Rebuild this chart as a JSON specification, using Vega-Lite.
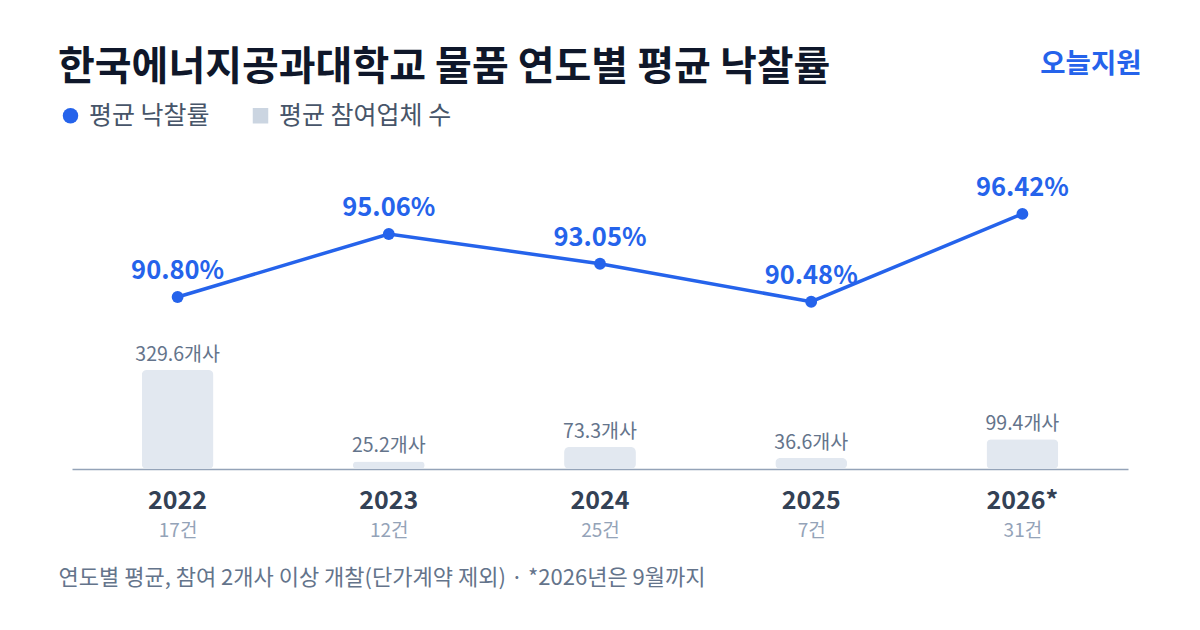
{
  "$schema": "https://vega.github.io/schema/vega-lite/v6.json",
  "autosize": {"type": "none"},
  "width": 1056,
  "height": 329,
  "padding": {"left": 72, "right": 72, "top": 140, "bottom": 161},
  "background": "#ffffff",
  "config": {
    "font": "Noto Sans CJK KR",
    "view": {"stroke": null},
    "axis": {"grid": false}
  },
  "title": {
    "text": "한국에너지공과대학교 물품 연도별 평균 낙찰률",
    "anchor": "start",
    "frame": "group",
    "dx": -14,
    "offset": -38,
    "fontSize": 40,
    "fontWeight": "bold",
    "color": "#0f172a"
  },
  "data": {
    "values": [
      {"year": "2022", "rate": 0.9080, "firms": 329.6, "count": 17},
      {"year": "2023", "rate": 0.9506, "firms": 25.2, "count": 12},
      {"year": "2024", "rate": 0.9305, "firms": 73.3, "count": 25},
      {"year": "2025", "rate": 0.9048, "firms": 36.6, "count": 7},
      {"year": "2026*", "rate": 0.9642, "firms": 99.4, "count": 31}
    ]
  },
  "layer": [
    {
      "encoding": {
        "x": {
          "field": "year",
          "type": "nominal",
          "sort": null,
          "scale": {"type": "band", "paddingInner": 0, "paddingOuter": 0},
          "axis": {
            "orient": "bottom",
            "title": null,
            "domain": true,
            "domainColor": "#94a3b8",
            "domainWidth": 1.5,
            "ticks": false,
            "labelAngle": 0,
            "labelPadding": 19,
            "labelFontSize": 25,
            "labelFontWeight": "bold",
            "labelColor": "#334155"
          }
        },
        "y": {
          "field": "firms",
          "type": "quantitative",
          "scale": {"domain": [0, 1095], "nice": false, "zero": true},
          "axis": null
        }
      },
      "layer": [
        {
          "mark": {"type": "bar", "width": {"band": 0.34}, "color": "#e2e8f0", "cornerRadius": 5}
        },
        {
          "transform": [{"calculate": "format(datum.firms, '.1f') + '개사'", "as": "firmsLabel"}],
          "mark": {"type": "text", "baseline": "alphabetic", "dy": -9, "fontSize": 19.5, "color": "#64748b"},
          "encoding": {"text": {"field": "firmsLabel"}}
        }
      ]
    },
    {
      "encoding": {
        "x": {
          "field": "count",
          "type": "nominal",
          "sort": null,
          "scale": {"type": "point", "padding": 0.5},
          "axis": {
            "orient": "bottom",
            "domain": false,
            "ticks": false,
            "labelAngle": 0,
            "labelPadding": 52,
            "labelFontSize": 19,
            "labelColor": "#94a3b8",
            "labelExpr": "datum.label + '건'",
            "title": "연도별 평균, 참여 2개사 이상 개찰(단가계약 제외) · *2026년은 9월까지",
            "titleX": -14,
            "titleY": 108,
            "titleAlign": "left",
            "titleAnchor": "start",
            "titleBaseline": "middle",
            "titleFontSize": 22,
            "titleFontWeight": "normal",
            "titleColor": "#64748b",
            "titleLimit": 800
          }
        },
        "y": {
          "field": "rate",
          "type": "quantitative",
          "scale": {"domain": [0.7917, 1.01415], "nice": false, "zero": false},
          "axis": {
            "orient": "right",
            "domain": false,
            "ticks": false,
            "labels": false,
            "grid": false,
            "title": "오늘지원",
            "titleAngle": 0,
            "titleAlign": "right",
            "titleBaseline": "middle",
            "titleX": 13,
            "titleY": -76,
            "titleFontSize": 27.5,
            "titleFontWeight": "bold",
            "titleColor": "#2563eb"
          }
        },
        "color": {
          "datum": "평균 낙찰률",
          "scale": {"domain": ["평균 낙찰률", "평균 참여업체 수"], "range": ["#2563eb", "#cbd5e1"]},
          "legend": {
            "title": null,
            "orient": "none",
            "legendX": -14,
            "legendY": -37,
            "direction": "horizontal",
            "symbolSize": 240,
            "symbolStrokeWidth": 0,
            "labelFontSize": 25,
            "labelColor": "#475569",
            "labelOffset": 6,
            "labelLimit": 400,
            "columnPadding": 38,
            "encode": {
              "symbols": {
                "update": {
                  "shape": {"signal": "datum.index === 0 ? 'circle' : 'square'"},
                  "fillOpacity": {"value": 1}
                }
              }
            }
          }
        }
      },
      "layer": [
        {"mark": {"type": "line", "strokeWidth": 3.5}},
        {"mark": {"type": "point", "filled": true, "size": 140, "opacity": 1}},
        {
          "mark": {"type": "text", "baseline": "alphabetic", "dy": -18, "fontSize": 25.5, "fontWeight": "bold"},
          "encoding": {"text": {"field": "rate", "type": "quantitative", "format": ".2%"}}
        }
      ]
    }
  ],
  "resolve": {
    "scale": {"x": "independent", "y": "independent"},
    "axis": {"x": "independent", "y": "independent"}
  }
}
